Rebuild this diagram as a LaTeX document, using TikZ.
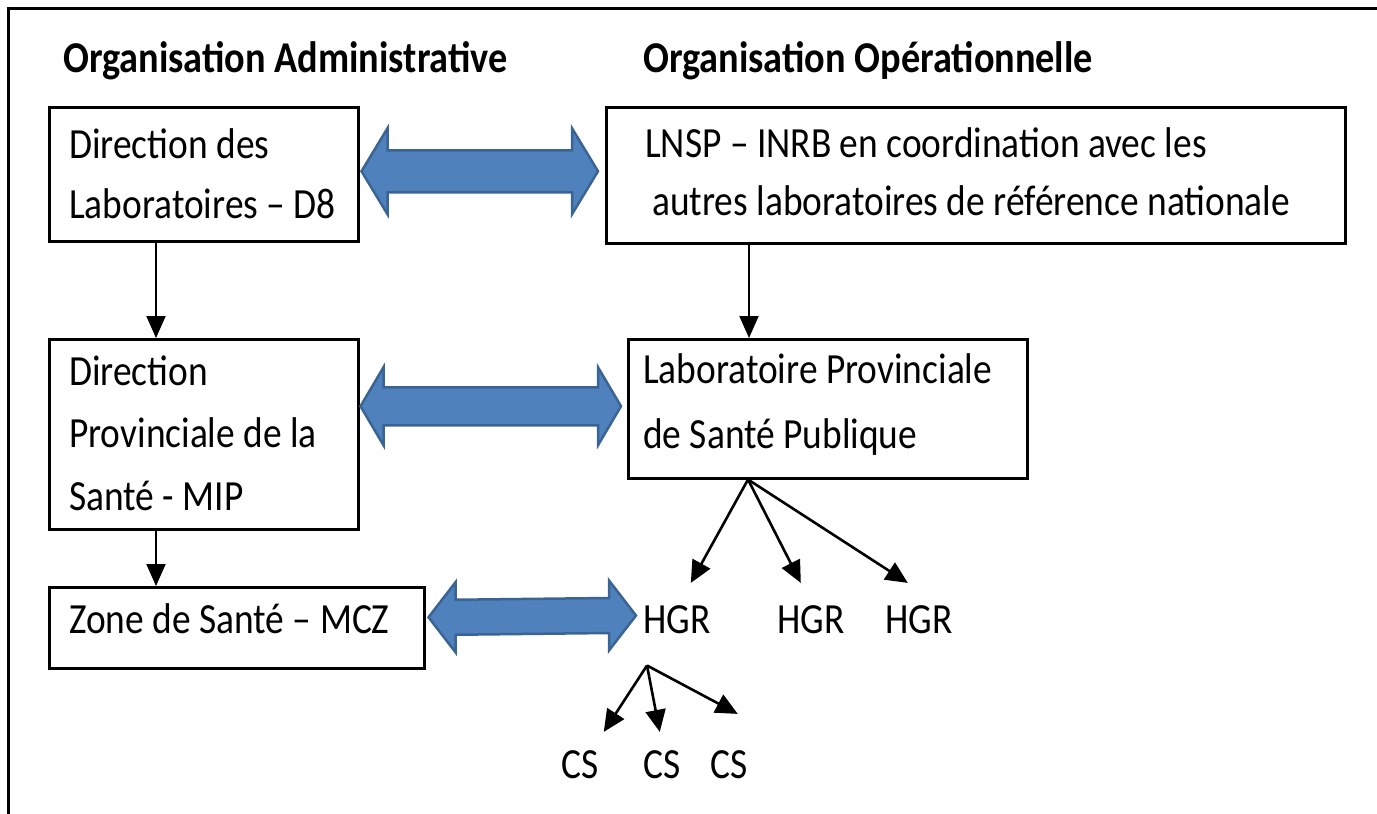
\documentclass[tikz,border=0pt]{standalone}
\usepackage{fontspec}
\setmainfont{Carlito}[FakeStretch=0.87]
\usetikzlibrary{calc,arrows.meta}
\definecolor{arrowblue}{HTML}{4F81BD}
\definecolor{arrowedge}{HTML}{3A6494}
\newcommand\dblarrow[5]{% left tip, right tip, head length, head half-height, shaft half-height
  \filldraw[blarrow] (#1) -- ($(#1)+(#3,-#4)$) -- ($(#1)+(#3,-#5)$) -- ($(#2)+(-#3,-#5)$) -- ($(#2)+(-#3,-#4)$) -- (#2)
    -- ($(#2)+(-#3,#4)$) -- ($(#2)+(-#3,#5)$) -- ($(#1)+(#3,#5)$) -- ($(#1)+(#3,#4)$) -- cycle;}
\begin{document}
\begin{tikzpicture}[x=1pt,y=-1pt,
  box/.style={draw=black, line width=2.5pt, fill=white, inner sep=0pt, anchor=north west},
  txt/.style={inner sep=0pt, anchor=base west, align=flush left, text width=720pt, font=\fontsize{43}{61}\selectfont},
  lbl/.style={inner sep=0pt, anchor=base west, font=\fontsize{43}{49}\selectfont},
  title/.style={inner sep=0pt, anchor=base west, font=\fontsize{44}{50}\selectfont\bfseries},
  conn/.style={line width=2pt, -{Triangle[length=22pt,width=19pt]}},
  fan/.style={line width=2.6pt, -{Triangle[length=22pt,width=20pt]}},
  blarrow/.style={fill=arrowblue, draw=arrowedge, line width=2.5pt, line join=miter}]
\useasboundingbox (0,0) rectangle (1377,814);
\draw[line width=3pt] (8,814) -- (8,8) -- (1377,8);

% titles
\node[title] (t1) at (63,72) {Organisation Administrative};
\node[title] (t2) at (643,72) {Organisation Opérationnelle};

% boxes
\node[box, minimum width=309pt, minimum height=134pt] (dl) at (48,106) {};
\node[box, minimum width=739pt, minimum height=136pt] (lnsp) at (605,106) {};
\node[box, minimum width=309pt, minimum height=190pt] (dps) at (48,338) {};
\node[box, minimum width=399pt, minimum height=139pt] (lpsp) at (627,338) {};
\node[box, minimum width=375pt, minimum height=81pt] (zone) at (48,586) {};

% box texts
\node[txt, font=\fontsize{43}{60}\selectfont] (dlt) at (69,158) {Direction des\\Laboratoires – D8};
\node[txt, font=\fontsize{43}{58}\selectfont] (lnspt) at (645,157) {LNSP – INRB en coordination avec les\\\hspace*{7pt}autres laboratoires de référence nationale};
\node[txt, font=\fontsize{43}{62.5}\selectfont] (dpst) at (69,385) {Direction\\Provinciale de la\\Santé - MIP};
\node[txt, font=\fontsize{43}{65}\selectfont] (lpspt) at (643,383) {Laboratoire Provinciale\\de Santé Publique};
\node[txt] (zonet) at (69,633) {Zone de Santé – MCZ};

% HGR and CS
\node[lbl] (hgr1) at (643,633) {HGR};
\node[lbl] (hgr2) at (777,633) {HGR};
\node[lbl] (hgr3) at (885,633) {HGR};
\node[lbl] (cs1) at (561,778) {CS};
\node[lbl] (cs2) at (643,778) {CS};
\node[lbl] (cs3) at (710,778) {CS};

% vertical connectors
\draw[conn] ([xshift=108pt]dl.south west) -- ([xshift=108pt]dps.north west);
\draw[conn] ([xshift=108pt]dps.south west) -- ([xshift=108pt]zone.north west);
\draw[conn] ([xshift=144pt]lnsp.south west) -- ([xshift=122pt]lpsp.north west);

% fan from LPSP
\coordinate (f1) at ($(lpsp.south west)+(121,0)$);
\draw[fan] (f1) -- ($(hgr1.north)+(14,-22)$);
\draw[fan] (f1) -- ($(hgr2.north)+(-10,-22)$);
\draw[fan] (f1) -- ($(hgr3.north)+(-11,-22)$);

% fan from HGR
\coordinate (f2) at ($(hgr1.south west)+(4,32)$);
\draw[fan] (f2) -- ($(cs1.north)+(24,-18)$);
\draw[fan] (f2) -- ($(cs2.north)+(-2,-18)$);
\draw[fan] (f2) -- ($(cs3.north)+(9,-36)$);

% blue double arrows
\coordinate (a1l) at ($(dl.east)+(2,-3)$);
\coordinate (a1r) at ($(lnsp.west)+(-7,-4)$);
\dblarrow{a1l}{a1r}{26}{43}{21}
\coordinate (a2l) at ($(dps.east)+(1,-28)$);
\coordinate (a2r) at ($(lpsp.west)+(-6,-2.5)$);
\dblarrow{a2l}{a2r}{23}{39}{19}
\coordinate (a3l) at ($(zone.east)+(3,-10.5)$);
\coordinate (a3r) at ($(hgr1.west)+(-7,-3.7)$);
\dblarrow{a3l}{a3r}{27}{35}{17.5}
\end{tikzpicture}
\end{document}
